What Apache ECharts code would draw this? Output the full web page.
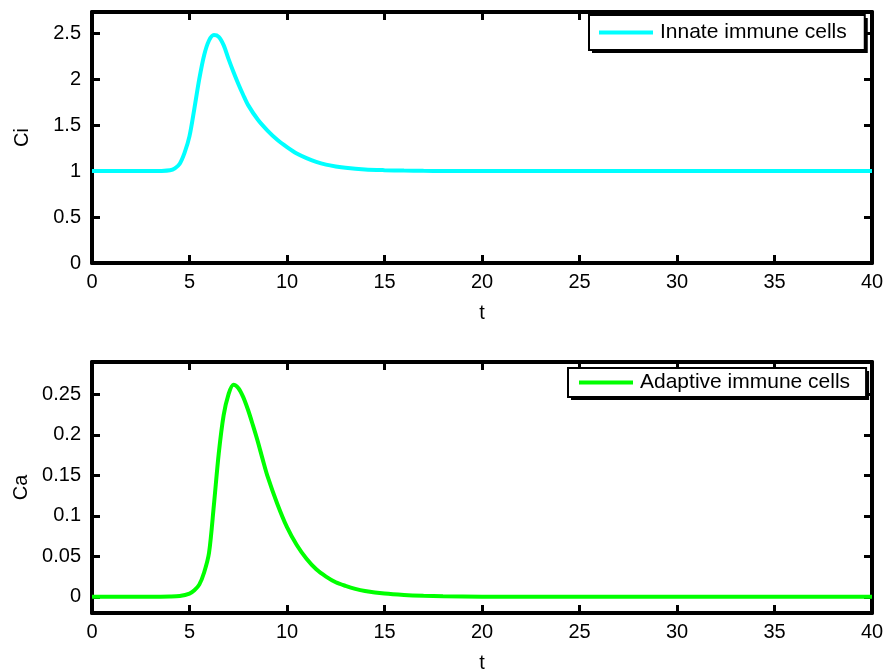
<!DOCTYPE html>
<html>
<head>
<meta charset="utf-8">
<script src="https://cdn.jsdelivr.net/npm/echarts@6/dist/echarts.min.js"></script>
<style>
  html, body { margin: 0; padding: 0; background: #fff; }
  #chart { width: 893px; height: 669px; }
</style>
</head>
<body>
<div id="chart"></div>
<script>
// Innate immune cells, Ci(t)
const ciT = [0, 1, 2, 3, 3.5, 4, 4.25, 4.5, 4.75, 5, 5.25, 5.5, 5.75, 6, 6.25, 6.5, 6.75, 7, 7.25, 7.5, 7.75, 8, 8.5, 9, 9.5, 10, 10.5, 11, 11.5, 12, 12.5, 13, 14, 15, 16, 17, 18, 20, 25, 30, 35, 40];
const ciV = [1, 1, 1, 1, 1.001, 1.008, 1.03, 1.08, 1.20, 1.38, 1.68, 2.00, 2.26, 2.42, 2.48, 2.46, 2.37, 2.22, 2.08, 1.95, 1.83, 1.72, 1.56, 1.44, 1.34, 1.26, 1.19, 1.14, 1.10, 1.07, 1.05, 1.035, 1.018, 1.01, 1.005, 1.002, 1.001, 1, 1, 1, 1, 1];

// Adaptive immune cells, Ca(t)
const caT = [0, 1, 2, 3, 4, 4.5, 5, 5.25, 5.5, 5.75, 6, 6.25, 6.5, 6.75, 7, 7.25, 7.5, 7.75, 8, 8.25, 8.5, 8.75, 9, 9.5, 10, 10.5, 11, 11.5, 12, 12.5, 13, 13.5, 14, 15, 16, 17, 18, 20, 25, 30, 35, 40];
const caV = [0, 0, 0, 0, 0.0003, 0.001, 0.004, 0.008, 0.015, 0.030, 0.054, 0.113, 0.177, 0.224, 0.250, 0.262, 0.258, 0.247, 0.231, 0.212, 0.192, 0.170, 0.149, 0.115, 0.086, 0.064, 0.047, 0.034, 0.025, 0.018, 0.0135, 0.0098, 0.0072, 0.004, 0.0022, 0.0012, 0.0007, 0.0002, 0, 0, 0, 0];

const xTicks = [0, 5, 10, 15, 20, 25, 30, 35, 40];
const ciTicks = [0, 0.5, 1, 1.5, 2, 2.5];
const caTicks = [0, 0.05, 0.1, 0.15, 0.2, 0.25];

const FONT = 'Liberation Sans, Arial, sans-serif';
const TICK_FONT = 20;
const LEGEND_FONT = 21;

const pairs = (xs, ys) => xs.map((x, i) => [x, ys[i]]);

const boxLine = { show: true, onZero: false, lineStyle: { color: '#000', width: 4 } };
const tickIn = (ticks) => ({ show: true, inside: true, length: 8, customValues: ticks, lineStyle: { color: '#000', width: 3 } });

function xAxes(gridIndex) {
  return [
    {
      type: 'value', gridIndex, min: 0, max: 40, position: 'bottom',
      name: 't', nameLocation: 'middle', nameGap: 40,
      nameTextStyle: { fontFamily: FONT, fontSize: TICK_FONT, color: '#000' },
      axisLine: boxLine, axisTick: tickIn(xTicks), splitLine: { show: false },
      axisLabel: { fontFamily: FONT, fontSize: TICK_FONT, color: '#000', margin: 9, customValues: xTicks }
    },
    {
      type: 'value', gridIndex, min: 0, max: 40, position: 'top',
      axisLine: boxLine, axisTick: tickIn(xTicks), splitLine: { show: false }, axisLabel: { show: false }
    }
  ];
}

function yAxes(gridIndex, min, max, name, ticks) {
  return [
    {
      type: 'value', gridIndex, min, max, position: 'left',
      name, nameLocation: 'middle', nameGap: 60,
      nameTextStyle: { fontFamily: FONT, fontSize: TICK_FONT, color: '#000' },
      axisLine: boxLine, axisTick: tickIn(ticks), splitLine: { show: false },
      axisLabel: { fontFamily: FONT, fontSize: TICK_FONT, color: '#000', margin: 11, customValues: ticks }
    },
    {
      type: 'value', gridIndex, min, max, position: 'right',
      axisLine: boxLine, axisTick: tickIn(ticks), splitLine: { show: false }, axisLabel: { show: false }
    }
  ];
}

// Each legend is drawn as two layers: a white panel casting a hard black
// drop shadow underneath, and the framed entry (icon + text) on top.
function legendPair(name, left, top, padding) {
  const common = {
    data: [{ name, icon: 'rect' }],
    left, top,
    orient: 'vertical',
    itemWidth: 54, itemHeight: 4,
    padding,
    borderRadius: 0
  };
  return [
    Object.assign({}, common, {
      z: 3,
      backgroundColor: '#fff',
      borderWidth: 0,
      shadowColor: '#000', shadowBlur: 0, shadowOffsetX: 3, shadowOffsetY: 3,
      itemStyle: { opacity: 0 },
      textStyle: { fontFamily: FONT, fontSize: LEGEND_FONT, color: 'rgba(0,0,0,0)', padding: [0, 0, 0, 2] }
    }),
    Object.assign({}, common, {
      z: 4,
      backgroundColor: 'transparent',
      borderColor: '#000', borderWidth: 2,
      textStyle: { fontFamily: FONT, fontSize: LEGEND_FONT, color: '#000', padding: [0, 0, 0, 2] }
    })
  ];
}

const chart = echarts.init(document.getElementById('chart'), null, { renderer: 'canvas' });

chart.setOption({
  animation: false,
  backgroundColor: '#fff',
  grid: [
    { left: 92, top: 12, width: 780, height: 251, outerBoundsMode: 'none', containLabel: false },
    { left: 92, top: 362, width: 780, height: 251, outerBoundsMode: 'none', containLabel: false }
  ],
  xAxis: [...xAxes(0), ...xAxes(1)],
  yAxis: [...yAxes(0, 0, 2.73, 'Ci', ciTicks), ...yAxes(1, -0.02, 0.29, 'Ca', caTicks)],
  legend: [
    ...legendPair('Innate immune cells', 589, 15, [7, 18, 7, 10]),
    ...legendPair('Adaptive immune cells', 568, 368, [4, 16, 4, 11])
  ],
  series: [
    {
      name: 'Innate immune cells', type: 'line', xAxisIndex: 0, yAxisIndex: 0,
      data: pairs(ciT, ciV), showSymbol: false, smooth: 0.3,
      lineStyle: { color: '#00ffff', width: 4 }, itemStyle: { color: '#00ffff' }
    },
    {
      name: 'Adaptive immune cells', type: 'line', xAxisIndex: 2, yAxisIndex: 2,
      data: pairs(caT, caV), showSymbol: false, smooth: 0.3,
      lineStyle: { color: '#00ff00', width: 4 }, itemStyle: { color: '#00ff00' }
    }
  ]
});
</script>
</body>
</html>
